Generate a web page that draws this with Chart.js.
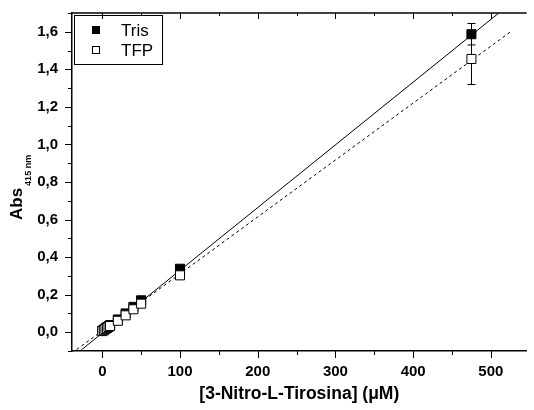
<!DOCTYPE html>
<html><head><meta charset="utf-8">
<script src="https://cdn.jsdelivr.net/npm/chart.js@4/dist/chart.umd.min.js"></script>
<style>html,body{margin:0;padding:0;background:#fff}</style>
</head><body>
<canvas id="c" width="534" height="410"></canvas>
<script>
// concentrations in uM
const conc = [0, 2, 4, 6, 8, 10, 20, 30, 40, 50, 100, 475];
const tris = [0.008, 0.014, 0.020, 0.026, 0.032, 0.038, 0.068, 0.100, 0.135, 0.170, 0.338, 1.587];
const tfp  = [0.006, 0.011, 0.017, 0.022, 0.028, 0.033, 0.061, 0.090, 0.122, 0.152, 0.303, 1.455];
const trisErr = [0, 0, 0, 0, 0, 0, 0, 0, 0, 0, 0.005, 0.057];
const tfpErr  = [0, 0, 0, 0, 0, 0, 0, 0, 0, 0, 0.005, 0.136];
// linear fits (endpoints)
const trisFitX = [-29, 530];
const trisFitY = [-0.101, 1.766];
const tfpFitX = [-33, 525];
const tfpFitY = [-0.092, 1.599];
// axis ticks (major + minor)
const xTicks = [0, 50, 100, 150, 200, 250, 300, 350, 400, 450, 500];
const yTicks = [-0.1, 0, 0.1, 0.2, 0.3, 0.4, 0.5, 0.6, 0.7, 0.8, 0.9, 1.0, 1.1, 1.2, 1.3, 1.4, 1.5, 1.6, 1.7];
const seriesNames = ['Tris', 'TFP'];
const xTitle = '[3-Nitro-L-Tirosina] (\u03BCM)';
const yTitle = 'Abs';
const ySub = '415 nm';

const pts = (xs, ys) => xs.map((x, i) => ({x, y: ys[i]}));
const FONT = '"Liberation Sans", Arial, sans-serif';
const isMult = (v, m) => Math.abs(v / m - Math.round(v / m)) < 1e-6;

const extras = {
  id: 'extras',
  beforeDatasetsDraw(chart){
    const {ctx, scales:{x, y}} = chart;
    ctx.save();
    ctx.strokeStyle = '#000'; ctx.lineWidth = 1;
    [[tris, trisErr], [tfp, tfpErr]].forEach(([vals, errs]) => {
      vals.forEach((v, i) => {
        if (!errs[i]) return;
        const px = Math.round(x.getPixelForValue(conc[i])) + 0.5;
        const y1 = y.getPixelForValue(v + errs[i]), y2 = y.getPixelForValue(v - errs[i]);
        ctx.beginPath();
        ctx.moveTo(px, y1); ctx.lineTo(px, y2);
        ctx.moveTo(px - 4, y1); ctx.lineTo(px + 4, y1);
        ctx.moveTo(px - 4, y2); ctx.lineTo(px + 4, y2);
        ctx.stroke();
      });
    });
    ctx.restore();
  },
  afterDraw(chart){
    const {ctx, chartArea:a, scales:{x, y}} = chart;
    ctx.save();
    ctx.strokeStyle = '#000';
    // top frame line
    ctx.lineWidth = 1.5;
    ctx.beginPath(); ctx.moveTo(a.left, a.top); ctx.lineTo(a.right, a.top); ctx.stroke();
    ctx.lineWidth = 1;
    ctx.beginPath();
    x.ticks.forEach(t => {
      const px = Math.round(x.getPixelForValue(t.value)) + 0.5;
      const len = isMult(t.value, 100) ? 7 : 4;
      ctx.moveTo(px, a.bottom); ctx.lineTo(px, a.bottom + len);
      ctx.moveTo(px, a.top); ctx.lineTo(px, a.top + len - 1);
    });
    y.ticks.forEach(t => {
      const py = Math.round(y.getPixelForValue(t.value)) + 0.5;
      const len = isMult(t.value, 0.2) ? 7 : 4;
      ctx.moveTo(a.left, py); ctx.lineTo(a.left - len, py);
    });
    ctx.stroke();

    // y title with subscript
    ctx.fillStyle = '#000';
    ctx.translate(22, 220);
    ctx.rotate(-Math.PI / 2);
    ctx.font = 'bold 17px ' + FONT;
    ctx.textBaseline = 'alphabetic';
    ctx.fillText(yTitle, 0, 0);
    const w = ctx.measureText(yTitle).width;
    ctx.font = 'bold 9px ' + FONT;
    ctx.fillText(ySub, w + 2, 9);
    ctx.setTransform(1, 0, 0, 1, 0, 0);

    // legend
    ctx.lineWidth = 1;
    ctx.strokeRect(74.5, 15.5, 88, 49);
    ctx.font = '17px ' + FONT;
    ctx.textBaseline = 'middle';
    [[30, '#000'], [50, '#fff']].forEach(([ly, fill], i) => {
      ctx.fillStyle = fill;
      ctx.fillRect(92, ly - 4, 8, 8);
      ctx.strokeRect(92.5, ly - 3.5, 7, 7);
      ctx.fillStyle = '#000';
      ctx.fillText(seriesNames[i], 121, ly + 1);
    });
    ctx.restore();
  }
};

new Chart(document.getElementById('c'), {
  type: 'scatter',
  data: {
    datasets: [
      { label: seriesNames[1], data: pts(conc, tfp), order: 0, pointStyle: 'rect', pointRadius: 6.4, pointHoverRadius: 6.4,
        backgroundColor: '#fff', borderColor: '#000', borderWidth: 1 },
      { label: seriesNames[0], data: pts(conc, tris), order: 1, pointStyle: 'rect', pointRadius: 6.4, pointHoverRadius: 6.4,
        backgroundColor: '#000', borderColor: '#000', borderWidth: 1 },
      { type: 'line', label: 'fit Tris', data: pts(trisFitX, trisFitY), order: 2, showLine: true, pointRadius: 0,
        borderColor: '#000', borderWidth: 1, fill: false },
      { type: 'line', label: 'fit TFP', data: pts(tfpFitX, tfpFitY), order: 3, showLine: true, pointRadius: 0,
        borderColor: '#000', borderWidth: 1, borderDash: [3, 3], fill: false }
    ]
  },
  options: {
    responsive: false,
    animation: false,
    layout: { padding: { top: 13, right: 0, left: 0, bottom: 0 } },
    plugins: { legend: { display: false }, tooltip: { enabled: false } },
    scales: {
      x: {
        type: 'linear', min: -39, max: 546,
        afterFit: s => { s.height = 59; s.paddingLeft = 0; s.paddingRight = 0; },
        afterBuildTicks: s => { s.ticks = xTicks.map(v => ({value: v})); },
        ticks: { autoSkip: false, maxRotation: 0, padding: 12, color: '#000',
          font: { family: FONT, size: 15, weight: 'bold' },
          callback: v => isMult(v, 100) ? String(Math.round(v)) : '' },
        grid: { display: false, drawTicks: false },
        border: { display: true, color: '#000', width: 1.5 },
        title: { display: true, text: xTitle, color: '#000', padding: { top: 0, bottom: 5 },
          font: { family: FONT, size: 17.5, weight: 'bold' } }
      },
      y: {
        type: 'linear', min: -0.1, max: 1.7,
        afterFit: s => { s.width = 72; s.paddingTop = 0; s.paddingBottom = 0; },
        afterBuildTicks: s => { s.ticks = yTicks.map(v => ({value: v})); },
        ticks: { autoSkip: false, padding: 14, color: '#000',
          font: { family: FONT, size: 15, weight: 'bold' },
          callback: v => v >= -1e-9 && isMult(v, 0.2) ? v.toFixed(1).replace('.', ',') : '' },
        grid: { display: false, drawTicks: false },
        border: { display: true, color: '#000', width: 1.5 }
      }
    }
  },
  plugins: [extras]
});
</script>
</body></html>
